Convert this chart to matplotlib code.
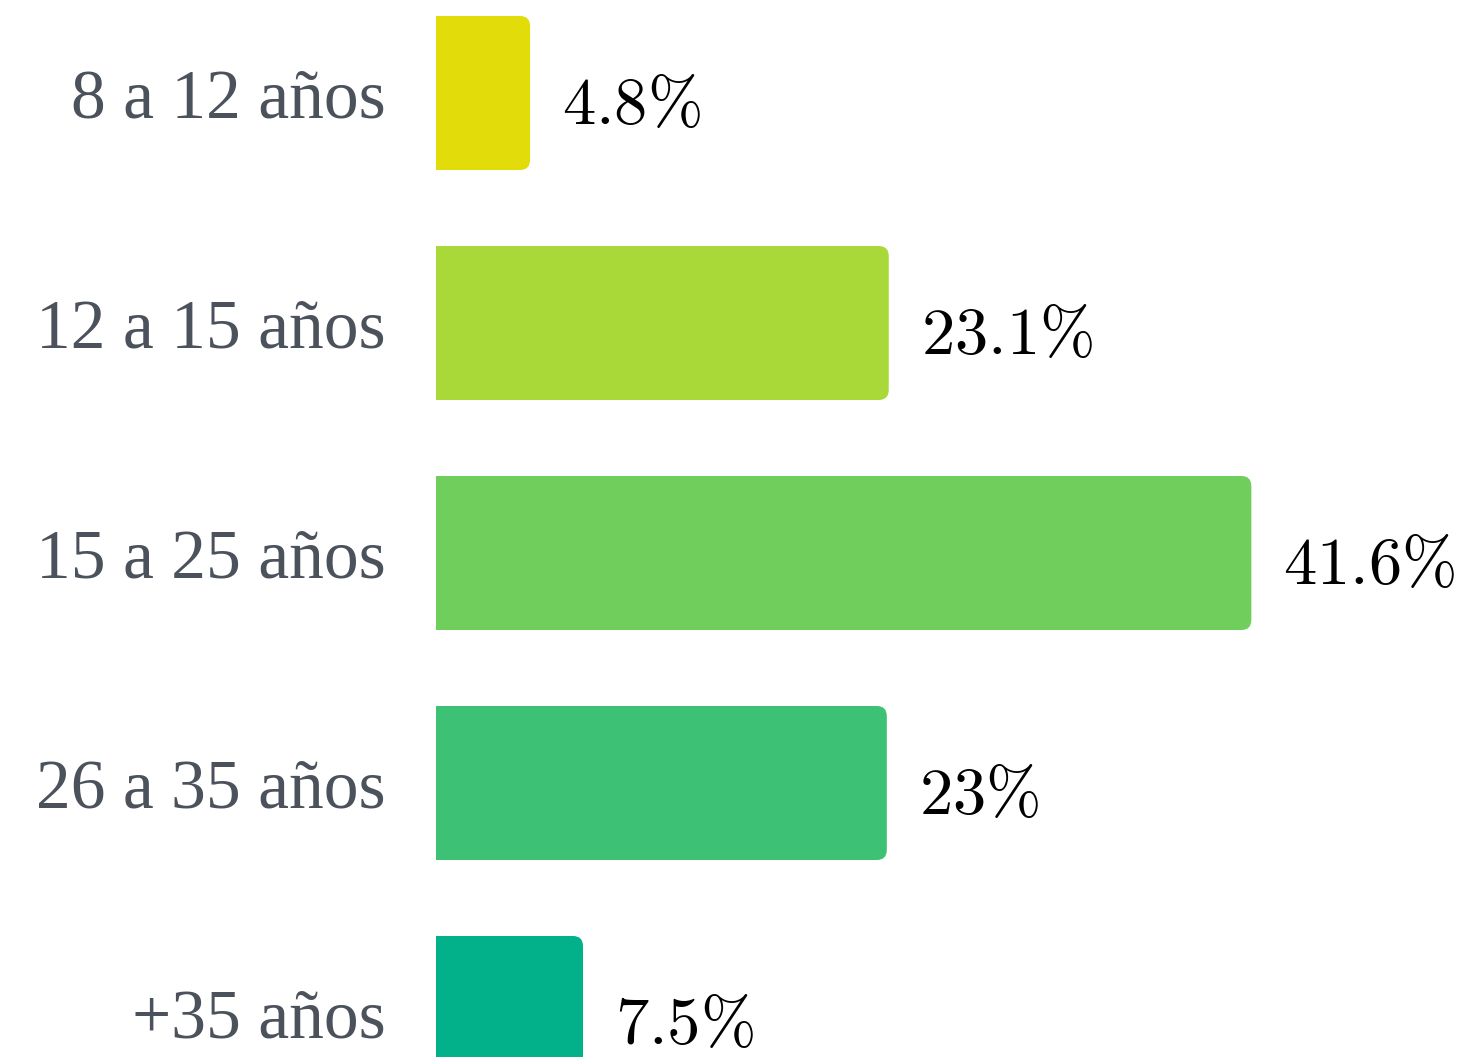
"""Distribución por edades: barras horizontales con esquinas redondeadas."""

import matplotlib

matplotlib.use("Agg")

import matplotlib.pyplot as plt  # noqa: E402
from matplotlib.patches import FancyBboxPatch, Rectangle  # noqa: E402

categories = ["8 a 12 años", "12 a 15 años", "15 a 25 años", "26 a 35 años", "+35 años"]
values = [4.8, 23.1, 41.6, 23.0, 7.5]
value_labels = ["4.8", "23.1", "41.6", "23", "7.5"]
colors = ["#E3DC0B", "#A9D938", "#70CE5D", "#3DC275", "#02B08A"]

plt.rcParams["mathtext.fontset"] = "cm"

W, H, DPI = 1468, 1057, 100
PX_PER_UNIT = 19.6   # horizontal pixels per percentage point
PITCH = 230          # vertical pixels between bars
X0, Y0 = 436, 93     # pixel position of the axis origin / first bar centre

fig = plt.figure(figsize=(W / DPI, H / DPI), dpi=DPI)
ax = fig.add_axes([0, 0, 1, 1])
ax.set_xlim(-X0 / PX_PER_UNIT, (W - X0) / PX_PER_UNIT)
ax.set_ylim((H - Y0) / PITCH, -Y0 / PITCH)
ax.axis("off")

bar_h = 154 / PITCH
radius = 10 / PX_PER_UNIT
aspect = PX_PER_UNIT / PITCH
gap = 32 / PX_PER_UNIT

for i, (cat, v, lab, c) in enumerate(zip(categories, values, value_labels, colors)):
    y = i - bar_h / 2
    ax.add_patch(FancyBboxPatch((0, y), v, bar_h,
                                boxstyle=f"round,pad=0,rounding_size={radius}",
                                mutation_aspect=aspect, fc=c, ec="none"))
    # square off the left corners
    ax.add_patch(Rectangle((0, y), v / 2, bar_h, fc=c, ec="none"))

    ax.text(-50 / PX_PER_UNIT, i + 24 / PITCH, cat, ha="right", va="baseline",
            fontsize=50, family="Liberation Serif", color="#4B525C")
    ax.text(v + gap, i + 31 / PITCH, rf"${lab}\%$", ha="left", va="baseline",
            fontsize=48, color="black")

fig.savefig("out.png", dpi=DPI)
